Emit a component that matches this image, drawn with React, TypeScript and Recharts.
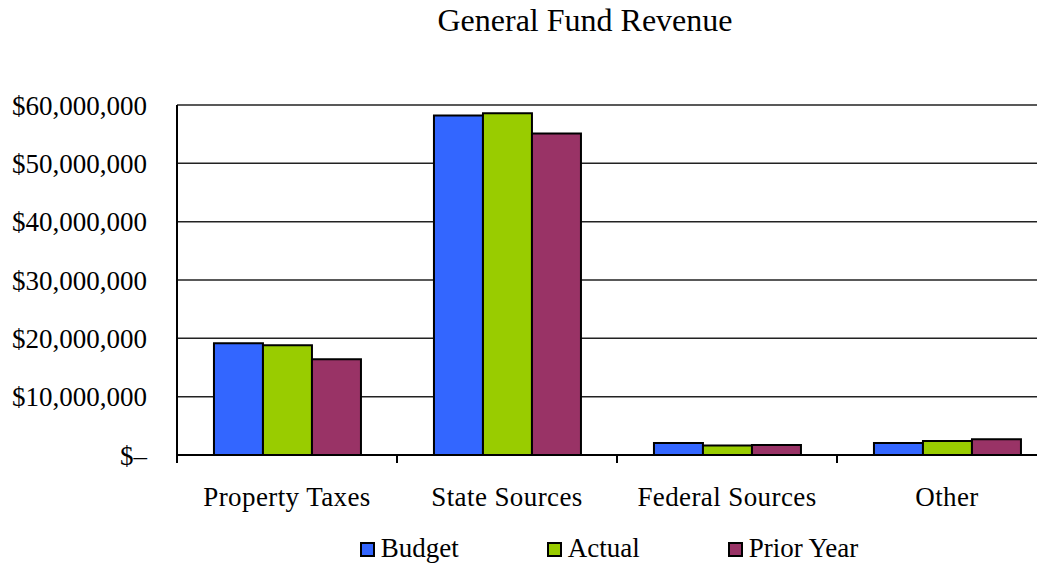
import React from 'react';
import { BarChart, Bar, XAxis, YAxis, CartesianGrid, Legend } from 'recharts';

const categories = ['Property Taxes', 'State Sources', 'Federal Sources', 'Other'];
const budget = [19150000, 58200000, 2050000, 2050000];
const actual = [18800000, 58600000, 1650000, 2400000];
const priorYear = [16400000, 55100000, 1700000, 2700000];
const yTicks = [0, 10000000, 20000000, 30000000, 40000000, 50000000, 60000000];

const series = [
  { key: 'budget', name: 'Budget', color: '#3366FF' },
  { key: 'actual', name: 'Actual', color: '#99CC00' },
  { key: 'priorYear', name: 'Prior Year', color: '#993366' },
];

const data = categories.map((name, i) => ({
  name,
  budget: budget[i],
  actual: actual[i],
  priorYear: priorYear[i],
}));

const FONT = '"Liberation Serif", "Times New Roman", serif';
const CHART_W = 1070;
const CHART_H = 571;
const PLOT_LEFT = 177;
const PLOT_RIGHT_MARGIN = 13;
const bandWidth = (CHART_W - PLOT_LEFT - PLOT_RIGHT_MARGIN) / categories.length;

const formatMoney = (v: number) => (v === 0 ? '$\u2013' : '$' + v.toLocaleString('en-US'));

// category labels sit in the middle, tick marks on the category borders
const CategoryTick = (props: any) => {
  const { x, y, payload, index } = props;
  const half = bandWidth / 2;
  return (
    <g>
      {index === 0 && <line x1={x - half} y1={y} x2={x - half} y2={y + 8} stroke="#000" strokeWidth={2} />}
      <line x1={x + half} y1={y} x2={x + half} y2={y + 8} stroke="#000" strokeWidth={2} />
      <text x={x} y={y + 51} textAnchor="middle" fontFamily={FONT} fontSize={27} letterSpacing={0.4} fill="#000">
        {payload.value}
      </text>
    </g>
  );
};

const LegendContent = () => (
  <div style={{ display: 'flex', justifyContent: 'center', gap: 88, height: 40, boxSizing: 'border-box', paddingTop: 4, fontFamily: FONT, fontSize: 27, lineHeight: '27px' }}>
    {series.map((s) => (
      <div key={s.key} style={{ whiteSpace: 'nowrap' }}>
        <span style={{ display: 'inline-block', verticalAlign: 'baseline', boxSizing: 'border-box', width: 15, height: 15, background: s.color, border: '2px solid #000', marginRight: 6 }} />
        <span>{s.name}</span>
      </div>
    ))}
  </div>
);

export default function App() {
  return (
    <div style={{ position: 'relative', width: 1045, height: 571, margin: -8, overflow: 'hidden', background: '#fff' }}>
      <div style={{ position: 'absolute', top: 2, left: 385, width: 400, textAlign: 'center', fontFamily: FONT, fontSize: 32 }}>
        General Fund Revenue
      </div>
      <BarChart
        width={CHART_W}
        height={CHART_H}
        data={data}
        margin={{ top: 105, right: PLOT_RIGHT_MARGIN, left: 0, bottom: 0 }}
        barCategoryGap="16.8%"
        barGap={0}
      >
        <CartesianGrid vertical={false} stroke="#222" strokeWidth={1.5} />
        <XAxis
          dataKey="name"
          stroke="#000"
          strokeWidth={2}
          tickLine={false}
          tickSize={0}
          tickMargin={0}
          tick={<CategoryTick />}
          height={76}
          interval={0}
        />
        <YAxis
          width={PLOT_LEFT}
          domain={[0, 60000000]}
          ticks={yTicks}
          tickFormatter={formatMoney}
          stroke="#000"
          strokeWidth={2}
          tickLine={false}
          tickSize={0}
          tickMargin={30}
          tick={{ fill: '#000', fontFamily: FONT, fontSize: 27 }}
        />
        <Legend verticalAlign="bottom" content={<LegendContent />} wrapperStyle={{ left: PLOT_LEFT, width: 864 }} />
        {series.map((s) => (
          <Bar key={s.key} dataKey={s.key} name={s.name} fill={s.color} stroke="#000" strokeWidth={2} isAnimationActive={false} />
        ))}
      </BarChart>
    </div>
  );
}
